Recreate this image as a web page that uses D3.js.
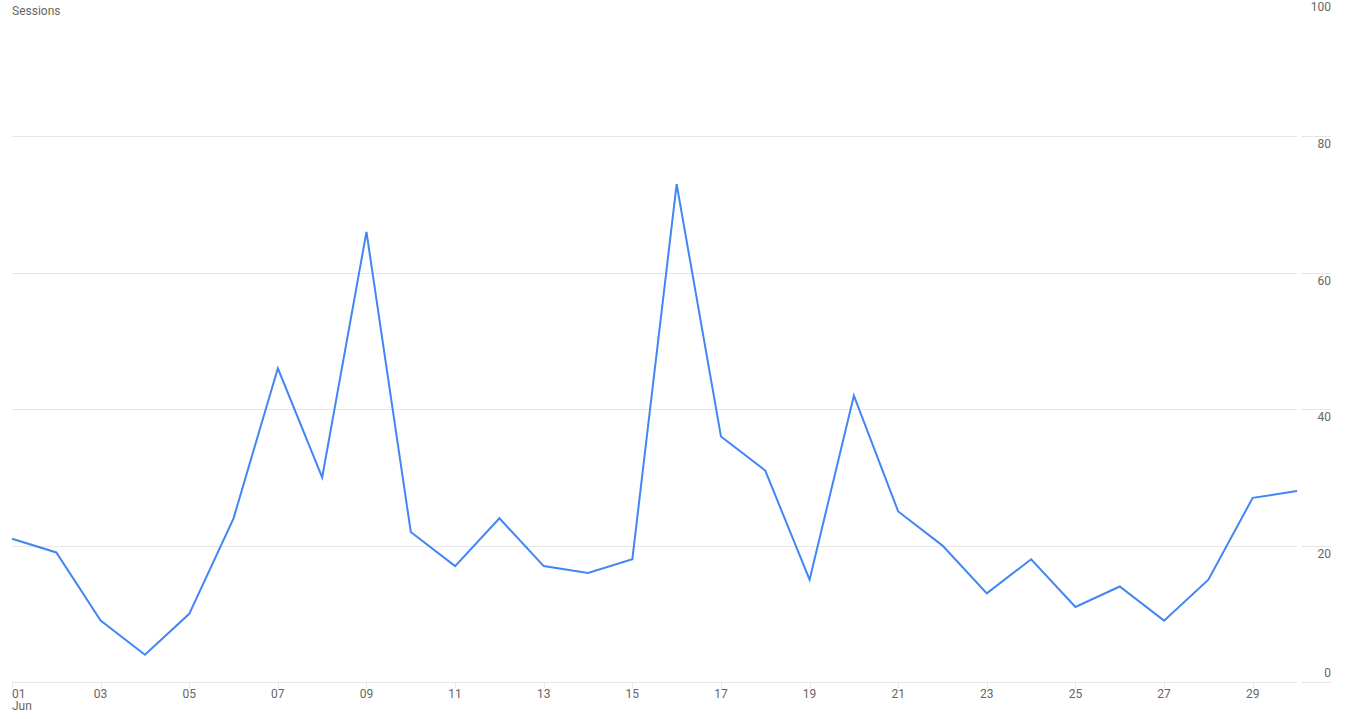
<!DOCTYPE html>
<html>
<head>
<meta charset="utf-8">
<script src="https://cdn.jsdelivr.net/npm/d3@7"></script>
<style>
  body { margin: 0; background: #fff; }
  text { font-family: Roboto, "Liberation Sans", Arial, sans-serif; }
</style>
</head>
<body>
<div id="chart"></div>
<script>
// days of June and sessions per day
var days = ["01","02","03","04","05","06","07","08","09","10","11","12","13","14","15",
            "16","17","18","19","20","21","22","23","24","25","26","27","28","29","30"];
var sessions = [21,19,9,4,10,24,46,30,66,22,17,24,17,16,18,
                73,36,31,15,42,25,20,13,18,11,14,9,15,27,28];
var yTicks = [0, 20, 40, 60, 80, 100];
var xLabelDays = ["01","03","05","07","09","11","13","15","17","19","21","23","25","27","29"];

var width = 1345, height = 719;
var plotLeft = 12, plotRight = 1297, plotTop = 0, plotBottom = 682;

var svg = d3.select("#chart").append("svg")
    .attr("width", width)
    .attr("height", height);

var x = d3.scalePoint()
    .domain(days)
    .range([plotLeft, plotRight]);

var y = d3.scaleLinear()
    .domain([0, 100])
    .range([plotBottom, plotTop]);

// gridlines + right tick stubs
var grid = svg.append("g");
yTicks.forEach(function (t) {
    if (t == 100) return;
    grid.append("line")
        .attr("x1", plotLeft).attr("x2", plotRight)
        .attr("y1", Math.round(y(t)) + 0.5).attr("y2", Math.round(y(t)) + 0.5)
        .attr("stroke", "#e6e6e6");
    grid.append("line")
        .attr("x1", 1301).attr("x2", 1331)
        .attr("y1", Math.round(y(t)) + 0.5).attr("y2", Math.round(y(t)) + 0.5)
        .attr("stroke", "#e6e6e6");
});

// y labels on the right
svg.append("g").selectAll("text")
    .data(yTicks)
    .enter().append("text")
    .attr("x", 1331)
    .attr("y", function (d) {
        if (d == 0) return y(d) - 5;
        if (d == 100) return y(d) + 11;
        return y(d) + 12;
    })
    .attr("text-anchor", "end")
    .attr("font-size", 12)
    .attr("fill", "#666")
    .text(function (d) { return d; });

// x tick marks
svg.append("g").selectAll("line")
    .data(xLabelDays)
    .enter().append("line")
    .attr("x1", function (d) { return Math.round(x(d)) + 0.5; })
    .attr("x2", function (d) { return Math.round(x(d)) + 0.5; })
    .attr("y1", plotBottom)
    .attr("y2", plotBottom + 6)
    .attr("stroke", "#e6e6e6");

svg.append("g").selectAll("text")
    .data(xLabelDays)
    .enter().append("text")
    .attr("x", function (d) { return x(d); })
    .attr("y", plotBottom + 16)
    .attr("text-anchor", function (d, i) { return i == 0 ? "start" : "middle"; })
    .attr("font-size", 12)
    .attr("fill", "#666")
    .text(function (d) { return d; });

svg.append("text")
    .attr("x", x("01"))
    .attr("y", plotBottom + 28)
    .attr("font-size", 12)
    .attr("fill", "#666")
    .text("Jun");

svg.append("text")
    .attr("x", 12)
    .attr("y", 15)
    .attr("font-size", 12)
    .attr("fill", "#666")
    .text("Sessions");

// the line
var line = d3.line()
    .x(function (d, i) { return x(days[i]); })
    .y(function (d) { return y(d); });

svg.append("path")
    .datum(sessions)
    .attr("d", line)
    .attr("fill", "none")
    .attr("stroke", "#4285f4")
    .attr("stroke-width", 2)
    .attr("stroke-linejoin", "miter");
</script>
</body>
</html>
